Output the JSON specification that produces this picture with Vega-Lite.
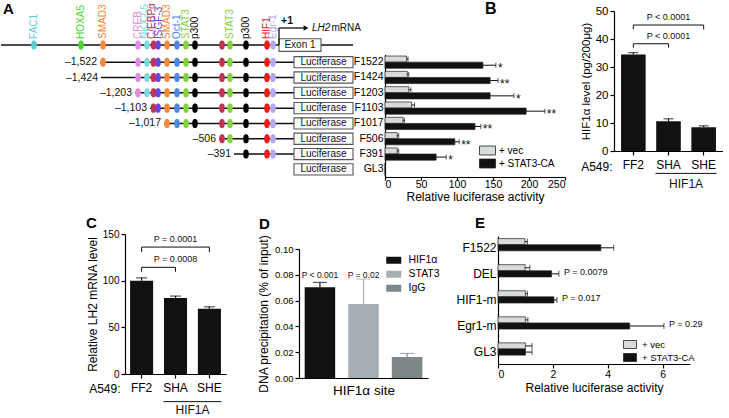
{
 "$schema": "https://vega.github.io/schema/vega-lite/v6.json",
 "background": "white",
 "padding": {"left": 0, "top": 0, "right": 0, "bottom": 0},
 "config": {
  "font": "Liberation Sans",
  "view": {"stroke": null},
  "axis": {"domainColor": "#000", "tickColor": "#000", "labelColor": "#000", "titleColor": "#000", "grid": false, "titleFontWeight": "normal", "domainWidth": 1.2, "tickWidth": 1.2, "labelOverlap": false},
  "title": {"fontSize": 15, "fontWeight": "bold", "anchor": "start", "frame": "group", "color": "#000"},
  "legend": {"labelColor": "#000"}
 },
 "spacing": 6,
 "resolve": {"scale": {"color": "independent", "x": "independent", "y": "independent"}, "legend": {"color": "independent"}},
 "vconcat": [
  {
   "hconcat": [
    {
     "width": 384, "height": 166,
     "title": {"text": "A", "dx": 2, "offset": -13.5},
     "layer": [
      {"data": {"values": [
        {"lane": -0.12, "x1": 0, "x2": 352, "lab": ""},
        {"lane": 1, "x1": 99, "x2": 293, "lab": "–1,522"},
        {"lane": 2, "x1": 100, "x2": 293, "lab": "–1,424"},
        {"lane": 3, "x1": 134, "x2": 293, "lab": "–1,203"},
        {"lane": 4, "x1": 149, "x2": 293, "lab": "–1,103"},
        {"lane": 5, "x1": 163, "x2": 293, "lab": "–1,017"},
        {"lane": 6, "x1": 218, "x2": 293, "lab": "–506"},
        {"lane": 7, "x1": 233, "x2": 293, "lab": "–391"}]},
       "layer": [
        {"mark": {"type": "rule", "color": "#111", "strokeWidth": 1.5},
         "encoding": {
          "x": {"field": "x1", "type": "quantitative", "scale": {"domain": [0, 384], "nice": false, "zero": false}, "axis": null},
          "x2": {"field": "x2"},
          "y": {"field": "lane", "type": "quantitative", "scale": {"domain": [-2.344, 8.498], "reverse": true, "nice": false, "zero": false}, "axis": null}}},
        {"transform": [{"filter": "datum.lab != ''"}],
         "mark": {"type": "text", "align": "right", "baseline": "middle", "dx": -3, "fontSize": 10.5, "color": "#111"},
         "encoding": {
          "x": {"field": "x1", "type": "quantitative", "axis": null},
          "y": {"field": "lane", "type": "quantitative", "axis": null},
          "text": {"field": "lab"}}}
       ]},
      {"data": {"values": [{"lane": 1}, {"lane": 2}, {"lane": 3}, {"lane": 4}, {"lane": 5}, {"lane": 6}, {"lane": 7}, {"lane": 8}]},
       "layer": [
        {"mark": {"type": "point", "shape": "M-1,-0.19H1V0.19H-1Z", "size": 3481, "filled": true, "fill": "white", "stroke": "#555", "strokeWidth": 1.1, "opacity": 1},
         "encoding": {"x": {"datum": 322.5, "type": "quantitative", "axis": null}, "y": {"field": "lane", "type": "quantitative", "axis": null}}},
        {"mark": {"type": "text", "fontSize": 10, "baseline": "middle", "color": "#111"},
         "encoding": {"x": {"datum": 322.5, "type": "quantitative", "axis": null}, "y": {"field": "lane", "type": "quantitative", "axis": null}, "text": {"value": "Luciferase"}}}
       ]},
      {"data": {"values": [{"lane": -0.12, "t": "Exon 1"}]},
       "layer": [
        {"mark": {"type": "point", "shape": "M-1,-0.3H1V0.3H-1Z", "size": 1764, "filled": true, "fill": "white", "stroke": "#555", "strokeWidth": 1.1, "opacity": 1},
         "encoding": {"x": {"datum": 299, "type": "quantitative", "axis": null}, "y": {"field": "lane", "type": "quantitative", "axis": null}}},
        {"mark": {"type": "text", "fontSize": 10, "baseline": "middle", "color": "#111"},
         "encoding": {"x": {"datum": 299, "type": "quantitative", "axis": null}, "y": {"field": "lane", "type": "quantitative", "axis": null}, "text": {"field": "t"}}}
       ]},
      {"data": {"values": [
        {"lane": -0.12, "p": 33, "f": "FAC1"}, {"lane": -0.12, "p": 80, "f": "HOXA5"}, {"lane": -0.12, "p": 102, "f": "SMAD3"},
        {"lane": -0.12, "p": 137, "f": "CREB"}, {"lane": -0.12, "p": 146, "f": "NKX2-5"}, {"lane": -0.12, "p": 152.5, "f": "C/EBPα"},
        {"lane": -0.12, "p": 157, "f": "ISGF-3"}, {"lane": -0.12, "p": 166, "f": "SMAD3"}, {"lane": -0.12, "p": 176, "f": "Oct-1"},
        {"lane": -0.12, "p": 185, "f": "STAT3"}, {"lane": -0.12, "p": 194, "f": "p300"}, {"lane": -0.12, "p": 221, "f": "C/EBPα"},
        {"lane": -0.12, "p": 229, "f": "STAT3"}, {"lane": -0.12, "p": 245, "f": "p300"}, {"lane": -0.12, "p": 266, "f": "HIF1"},
        {"lane": -0.12, "p": 272, "f": "Egr-1"},
        {"lane": 1, "p": 102, "f": "SMAD3"},
        {"lane": 1, "p": 137, "f": "CREB"}, {"lane": 1, "p": 146, "f": "NKX2-5"}, {"lane": 1, "p": 152.5, "f": "C/EBPα"},
        {"lane": 1, "p": 157, "f": "ISGF-3"}, {"lane": 1, "p": 166, "f": "SMAD3"}, {"lane": 1, "p": 176, "f": "Oct-1"},
        {"lane": 1, "p": 185, "f": "STAT3"}, {"lane": 1, "p": 194, "f": "p300"}, {"lane": 1, "p": 221, "f": "C/EBPα"},
        {"lane": 1, "p": 229, "f": "STAT3"}, {"lane": 1, "p": 245, "f": "p300"}, {"lane": 1, "p": 266, "f": "HIF1"},
        {"lane": 1, "p": 272, "f": "Egr-1"},
        {"lane": 2, "p": 137, "f": "CREB"}, {"lane": 2, "p": 146, "f": "NKX2-5"}, {"lane": 2, "p": 152.5, "f": "C/EBPα"},
        {"lane": 2, "p": 157, "f": "ISGF-3"}, {"lane": 2, "p": 166, "f": "SMAD3"}, {"lane": 2, "p": 176, "f": "Oct-1"},
        {"lane": 2, "p": 185, "f": "STAT3"}, {"lane": 2, "p": 194, "f": "p300"}, {"lane": 2, "p": 221, "f": "C/EBPα"},
        {"lane": 2, "p": 229, "f": "STAT3"}, {"lane": 2, "p": 245, "f": "p300"}, {"lane": 2, "p": 266, "f": "HIF1"},
        {"lane": 2, "p": 272, "f": "Egr-1"},
        {"lane": 3, "p": 137, "f": "CREB"}, {"lane": 3, "p": 146, "f": "NKX2-5"}, {"lane": 3, "p": 152.5, "f": "C/EBPα"},
        {"lane": 3, "p": 157, "f": "ISGF-3"}, {"lane": 3, "p": 166, "f": "SMAD3"}, {"lane": 3, "p": 176, "f": "Oct-1"},
        {"lane": 3, "p": 185, "f": "STAT3"}, {"lane": 3, "p": 194, "f": "p300"}, {"lane": 3, "p": 221, "f": "C/EBPα"},
        {"lane": 3, "p": 229, "f": "STAT3"}, {"lane": 3, "p": 245, "f": "p300"}, {"lane": 3, "p": 266, "f": "HIF1"},
        {"lane": 3, "p": 272, "f": "Egr-1"},
        {"lane": 4, "p": 152.5, "f": "C/EBPα"},
        {"lane": 4, "p": 157, "f": "ISGF-3"}, {"lane": 4, "p": 166, "f": "SMAD3"}, {"lane": 4, "p": 176, "f": "Oct-1"},
        {"lane": 4, "p": 185, "f": "STAT3"}, {"lane": 4, "p": 194, "f": "p300"}, {"lane": 4, "p": 221, "f": "C/EBPα"},
        {"lane": 4, "p": 229, "f": "STAT3"}, {"lane": 4, "p": 245, "f": "p300"}, {"lane": 4, "p": 266, "f": "HIF1"},
        {"lane": 4, "p": 272, "f": "Egr-1"},
        {"lane": 5, "p": 166, "f": "SMAD3"}, {"lane": 5, "p": 176, "f": "Oct-1"},
        {"lane": 5, "p": 185, "f": "STAT3"}, {"lane": 5, "p": 194, "f": "p300"}, {"lane": 5, "p": 221, "f": "C/EBPα"},
        {"lane": 5, "p": 229, "f": "STAT3"}, {"lane": 5, "p": 245, "f": "p300"}, {"lane": 5, "p": 266, "f": "HIF1"},
        {"lane": 5, "p": 272, "f": "Egr-1"},
        {"lane": 6, "p": 221, "f": "C/EBPα"},
        {"lane": 6, "p": 229, "f": "STAT3"}, {"lane": 6, "p": 245, "f": "p300"}, {"lane": 6, "p": 266, "f": "HIF1"},
        {"lane": 6, "p": 272, "f": "Egr-1"},
        {"lane": 7, "p": 245, "f": "p300"}, {"lane": 7, "p": 266, "f": "HIF1"},
        {"lane": 7, "p": 272, "f": "Egr-1"}]},
       "mark": {"type": "point", "shape": "M0,-1.65C0.85,-1.65,1,-0.85,1,0C1,0.85,0.85,1.65,0,1.65C-0.85,1.65,-1,0.85,-1,0C-1,-0.85,-0.85,-1.65,0,-1.65Z", "size": 30, "filled": true, "opacity": 1},
       "encoding": {
        "x": {"field": "p", "type": "quantitative", "axis": null},
        "y": {"field": "lane", "type": "quantitative", "axis": null},
        "color": {"field": "f", "type": "nominal", "legend": null,
         "scale": {"domain": ["FAC1", "HOXA5", "SMAD3", "CREB", "NKX2-5", "C/EBPα", "ISGF-3", "Oct-1", "STAT3", "p300", "HIF1", "Egr-1"],
                   "range": ["#5dcfd0", "#4cd633", "#f5883a", "#df8de6", "#7fd8dc", "#c23350", "#6b45d8", "#4c88e6", "#84d23c", "#000000", "#ee1b1b", "#b4a8f0"]}}}},
      {"data": {"values": [
        {"t": "FAC1", "f": "FAC1", "x": 33}, {"t": "HOXA5", "f": "HOXA5", "x": 80}, {"t": "SMAD3", "f": "SMAD3", "x": 102},
        {"t": "CREB", "f": "CREB", "x": 136.5}, {"t": "NKX2-5", "f": "NKX2-5", "x": 144}, {"t": "C/EBPα", "f": "C/EBPα", "x": 151},
        {"t": "ISGF-3", "f": "ISGF-3", "x": 158}, {"t": "SMAD3", "f": "SMAD3", "x": 166}, {"t": "Oct-1", "f": "Oct-1", "x": 175.5},
        {"t": "STAT3", "f": "STAT3", "x": 184.5}, {"t": "p300", "f": "p300", "x": 194}, {"t": "STAT3", "f": "STAT3", "x": 229},
        {"t": "p300", "f": "p300", "x": 244.5}, {"t": "HIF1", "f": "HIF1", "x": 265.5}, {"t": "Egr-1", "f": "Egr-1", "x": 272}]},
       "mark": {"type": "text", "angle": 270, "align": "left", "baseline": "middle", "fontSize": 10},
       "encoding": {
        "x": {"field": "x", "type": "quantitative", "axis": null},
        "y": {"datum": -0.52, "type": "quantitative", "axis": null},
        "text": {"field": "t"},
        "color": {"field": "f", "type": "nominal", "legend": null}}},
      {"data": {"values": [{"x1": 278, "x2": 278, "y1": -0.12, "y2": -1.234}, {"x1": 278, "x2": 304, "y1": -1.234, "y2": -1.234}]},
       "mark": {"type": "rule", "color": "#111", "strokeWidth": 1.3},
       "encoding": {"x": {"field": "x1", "type": "quantitative", "axis": null}, "x2": {"field": "x2"}, "y": {"field": "y1", "type": "quantitative", "axis": null}, "y2": {"field": "y2"}}},
      {"data": {"values": [{"x": 305, "y": -1.234}]},
       "mark": {"type": "point", "shape": "triangle-right", "size": 30, "filled": true, "color": "#111", "opacity": 1},
       "encoding": {"x": {"field": "x", "type": "quantitative", "axis": null}, "y": {"field": "y", "type": "quantitative", "axis": null}}},
      {"data": {"values": [{"x": 280, "y": -1.69, "t": "+1"}]},
       "mark": {"type": "text", "align": "left", "baseline": "middle", "fontSize": 10.5, "fontWeight": "bold", "color": "#111"},
       "encoding": {"x": {"field": "x", "type": "quantitative", "axis": null}, "y": {"field": "y", "type": "quantitative", "axis": null}, "text": {"field": "t"}}},
      {"data": {"values": [{"x": 311, "y": -1.234, "t": "LH2"}]},
       "mark": {"type": "text", "align": "left", "baseline": "middle", "fontSize": 10, "fontStyle": "italic", "color": "#111"},
       "encoding": {"x": {"field": "x", "type": "quantitative", "axis": null}, "y": {"field": "y", "type": "quantitative", "axis": null}, "text": {"field": "t"}}},
      {"data": {"values": [{"x": 330.5, "y": -1.234, "t": "mRNA"}]},
       "mark": {"type": "text", "align": "left", "baseline": "middle", "fontSize": 10, "color": "#111"},
       "encoding": {"x": {"field": "x", "type": "quantitative", "axis": null}, "y": {"field": "y", "type": "quantitative", "axis": null}, "text": {"field": "t"}}}
     ]
    },
    {
     "width": 229, "height": 166,
     "data": {"values": [
      {"c": "F1522", "g": "+ vec", "v": 30, "e": 32},
      {"c": "F1522", "g": "+ STAT3-CA", "v": 136, "e": 154, "s": "*"},
      {"c": "F1424", "g": "+ vec", "v": 31, "e": 33},
      {"c": "F1424", "g": "+ STAT3-CA", "v": 146, "e": 157, "s": "**"},
      {"c": "F1203", "g": "+ vec", "v": 33, "e": 36},
      {"c": "F1203", "g": "+ STAT3-CA", "v": 146, "e": 179, "s": "*"},
      {"c": "F1103", "g": "+ vec", "v": 37, "e": 41},
      {"c": "F1103", "g": "+ STAT3-CA", "v": 196, "e": 222, "s": "**"},
      {"c": "F1017", "g": "+ vec", "v": 25, "e": 27},
      {"c": "F1017", "g": "+ STAT3-CA", "v": 125, "e": 133, "s": "**"},
      {"c": "F506", "g": "+ vec", "v": 17, "e": 19},
      {"c": "F506", "g": "+ STAT3-CA", "v": 97, "e": 103, "s": "**"},
      {"c": "F391", "g": "+ vec", "v": 17, "e": 19},
      {"c": "F391", "g": "+ STAT3-CA", "v": 71, "e": 85, "s": "*"},
      {"c": "GL3", "g": "+ vec", "v": 0, "e": 0},
      {"c": "GL3", "g": "+ STAT3-CA", "v": 0, "e": 0}]},
     "encoding": {
      "y": {"field": "c", "type": "nominal", "scale": {"domain": ["F1522", "F1424", "F1203", "F1103", "F1017", "F506", "F391", "GL3"], "range": [43.5, 166], "paddingInner": 0.2, "paddingOuter": 0.1},
            "axis": {"title": null, "ticks": false, "labelPadding": 2, "labelFontSize": 10.5}},
      "yOffset": {"field": "g", "type": "nominal", "scale": {"domain": ["+ vec", "+ STAT3-CA"], "paddingInner": 0, "paddingOuter": 0}}
     },
     "layer": [
      {"mark": {"type": "bar", "stroke": "#222", "strokeWidth": 0.7},
       "encoding": {
        "x": {"field": "v", "type": "quantitative", "scale": {"domain": [0, 250], "range": [0, 180], "nice": false},
              "axis": {"values": [0, 50, 100, 150, 200, 250], "tickCount": 20, "format": "d", "title": "Relative luciferase activity", "tickSize": 3, "labelPadding": -1, "labelFontSize": 10.5, "titleFontSize": 12, "titlePadding": 2}},
        "color": {"field": "g", "type": "nominal", "scale": {"domain": ["+ vec", "+ STAT3-CA"], "range": ["#d8dbdb", "#111111"]},
                  "legend": {"orient": "none", "legendX": 97, "legendY": 134, "title": null, "symbolType": "M-1.6,-0.9H1.6V0.9H-1.6Z", "symbolSize": 100, "symbolStrokeColor": "#222", "symbolStrokeWidth": 0.8, "labelFontSize": 10, "labelOffset": 6, "rowPadding": 0, "padding": 0}}}},
      {"transform": [{"filter": "datum.e > datum.v"}],
       "mark": {"type": "rule", "color": "#111", "strokeWidth": 1},
       "encoding": {"x": {"field": "v", "type": "quantitative", "scale": {"domain": [0, 250], "range": [0, 180], "nice": false}}, "x2": {"field": "e"}}},
      {"transform": [{"filter": "datum.e > datum.v"}],
       "mark": {"type": "tick", "color": "#111", "thickness": 1, "size": 5},
       "encoding": {"x": {"field": "e", "type": "quantitative", "scale": {"domain": [0, 250], "range": [0, 180], "nice": false}}}},
      {"transform": [{"filter": "datum.s"}],
       "mark": {"type": "text", "align": "left", "baseline": "middle", "dx": 2, "dy": 3, "fontSize": 12, "color": "#111"},
       "encoding": {"x": {"field": "e", "type": "quantitative", "scale": {"domain": [0, 250], "range": [0, 180], "nice": false}}, "text": {"field": "s"}}}
     ]
    },
    {
     "width": 109, "height": 140,
     "title": {"text": "B", "dx": -129, "offset": -11.5, "fontSize": 16},
     "layer": [
      {"data": {"values": [{"k": "FF2", "v": 34.5, "e": 35.1}, {"k": "SHA", "v": 10.6, "e": 11.5}, {"k": "SHE", "v": 8.5, "e": 9.0}]},
       "layer": [
        {"mark": {"type": "bar", "color": "#111"},
         "encoding": {
          "x": {"field": "k", "type": "nominal", "scale": {"domain": ["FF2", "SHA", "SHE"], "paddingInner": 0.3, "paddingOuter": 0.2},
                "axis": {"labelAngle": 0, "title": "A549:", "titleX": -2, "titleY": 15.5, "titleAlign": "right", "titleBaseline": "middle", "titleFontSize": 12, "labelFontSize": 12, "tickSize": 4, "labelPadding": 4}},
          "y": {"field": "v", "type": "quantitative", "scale": {"domain": [0, 50], "nice": false},
                "axis": {"values": [0, 10, 20, 30, 40, 50], "tickCount": 20, "format": "d", "title": "HIF1α level (pg/200μg)", "labelFontSize": 11.5, "titleFontSize": 11.5, "tickSize": 4, "labelPadding": 2, "titlePadding": 4}}}},
        {"mark": {"type": "rule", "color": "#111", "strokeWidth": 1.2},
         "encoding": {"x": {"field": "k", "type": "nominal"}, "y": {"field": "v", "type": "quantitative"}, "y2": {"field": "e"}}},
        {"mark": {"type": "tick", "color": "#111", "thickness": 1.2, "size": 10},
         "encoding": {"x": {"field": "k", "type": "nominal"}, "y": {"field": "e", "type": "quantitative"}}}
       ]},
      {"data": {"values": [
        {"from": "FF2", "to": "SHE", "mid": "SHA", "lvl": 45, "drop": 43.4, "ty": 48, "txt": "P < 0.0001"},
        {"from": "FF2", "to": "SHA", "mid": "SHA", "lvl": 38.3, "drop": 36.9, "ty": 41, "txt": "P < 0.0001"}]},
       "layer": [
        {"mark": {"type": "rule", "color": "#111", "strokeWidth": 1},
         "encoding": {"x": {"field": "from", "type": "nominal"}, "x2": {"field": "to"}, "y": {"field": "lvl", "type": "quantitative"}}},
        {"mark": {"type": "rule", "color": "#111", "strokeWidth": 1},
         "encoding": {"x": {"field": "from", "type": "nominal"}, "y": {"field": "lvl", "type": "quantitative"}, "y2": {"field": "drop"}}},
        {"mark": {"type": "rule", "color": "#111", "strokeWidth": 1},
         "encoding": {"x": {"field": "to", "type": "nominal"}, "y": {"field": "lvl", "type": "quantitative"}, "y2": {"field": "drop"}}},
        {"mark": {"type": "text", "fontSize": 9, "baseline": "middle", "color": "#111"},
         "encoding": {"x": {"field": "mid", "type": "nominal"}, "y": {"field": "ty", "type": "quantitative"}, "text": {"field": "txt"}}}
       ]},
      {"data": {"values": [{"a": "SHA", "b": "SHE", "ly": -8, "ty": -11.8, "t": "HIF1A"}]},
       "layer": [
        {"mark": {"type": "rule", "color": "#111", "strokeWidth": 1, "xOffset": -13, "x2Offset": 13},
         "encoding": {"x": {"field": "a", "type": "nominal"}, "x2": {"field": "b"}, "y": {"field": "ly", "type": "quantitative"}}},
        {"mark": {"type": "text", "fontSize": 12, "baseline": "middle", "xOffset": 17.6, "color": "#111"},
         "encoding": {"x": {"field": "a", "type": "nominal"}, "y": {"field": "ty", "type": "quantitative"}, "text": {"field": "t"}}}
       ]}
     ]
    }
   ],
   "spacing": 0,
   "bounds": "flush",
   "resolve": {"scale": {"color": "independent", "x": "independent", "y": "independent"}, "legend": {"color": "independent"}}
  },
  {
   "hconcat": [
    {"width": 124, "height": 10, "data": {"values": [{"t": "."}]}, "mark": {"type": "text", "opacity": 0, "fontSize": 60, "baseline": "middle"}, "encoding": {"text": {"field": "t"}}},
    {
     "width": 174, "height": 140,
     "title": {"text": "C", "dx": -39, "offset": -2},
     "layer": [
      {"data": {"values": [{"k": "FF2", "v": 100, "e": 103}, {"k": "SHA", "v": 81.5, "e": 83.5}, {"k": "SHE", "v": 70, "e": 72}]},
       "layer": [
        {"mark": {"type": "bar", "color": "#111"},
         "encoding": {
          "x": {"field": "k", "type": "nominal", "scale": {"domain": ["FF2", "SHA", "SHE"], "range": [0, 101], "paddingInner": 0.32, "paddingOuter": 0.15},
                "axis": {"labelAngle": 0, "title": "A549:", "titleX": -5, "titleY": 14, "titleAlign": "right", "titleBaseline": "middle", "titleFontSize": 12, "labelFontSize": 12, "tickSize": 4, "labelPadding": 4}},
          "y": {"field": "v", "type": "quantitative", "scale": {"domain": [0, 150], "nice": false},
                "axis": {"values": [0, 50, 100, 150], "tickCount": 20, "format": "d", "title": "Relative LH2 mRNA level", "labelFontSize": 10, "titleFontSize": 12, "tickSize": 4, "labelPadding": 2, "titlePadding": 3}}}},
        {"mark": {"type": "rule", "color": "#111", "strokeWidth": 1.2},
         "encoding": {"x": {"field": "k", "type": "nominal"}, "y": {"field": "v", "type": "quantitative"}, "y2": {"field": "e"}}},
        {"mark": {"type": "tick", "color": "#111", "thickness": 1.2, "size": 11},
         "encoding": {"x": {"field": "k", "type": "nominal"}, "y": {"field": "e", "type": "quantitative"}}}
       ]},
      {"data": {"values": [
        {"from": "FF2", "to": "SHE", "mid": "SHA", "lvl": 136, "drop": 130.5, "ty": 144.6, "txt": "P = 0.0001"},
        {"from": "FF2", "to": "SHA", "mid": "SHA", "lvl": 114.3, "drop": 109.5, "ty": 123.2, "txt": "P = 0.0008"}]},
       "layer": [
        {"mark": {"type": "rule", "color": "#111", "strokeWidth": 1},
         "encoding": {"x": {"field": "from", "type": "nominal"}, "x2": {"field": "to"}, "y": {"field": "lvl", "type": "quantitative"}}},
        {"mark": {"type": "rule", "color": "#111", "strokeWidth": 1},
         "encoding": {"x": {"field": "from", "type": "nominal"}, "y": {"field": "lvl", "type": "quantitative"}, "y2": {"field": "drop"}}},
        {"mark": {"type": "rule", "color": "#111", "strokeWidth": 1},
         "encoding": {"x": {"field": "to", "type": "nominal"}, "y": {"field": "lvl", "type": "quantitative"}, "y2": {"field": "drop"}}},
        {"mark": {"type": "text", "fontSize": 9, "baseline": "middle", "color": "#111"},
         "encoding": {"x": {"field": "mid", "type": "nominal"}, "y": {"field": "ty", "type": "quantitative"}, "text": {"field": "txt"}}}
       ]},
      {"data": {"values": [{"a": "SHA", "b": "SHE", "ly": -29.6, "ty": -39, "t": "HIF1A"}]},
       "layer": [
        {"mark": {"type": "rule", "color": "#111", "strokeWidth": 1, "xOffset": -12, "x2Offset": 12},
         "encoding": {"x": {"field": "a", "type": "nominal"}, "x2": {"field": "b"}, "y": {"field": "ly", "type": "quantitative"}}},
        {"mark": {"type": "text", "fontSize": 12, "baseline": "middle", "xOffset": 17, "color": "#111"},
         "encoding": {"x": {"field": "a", "type": "nominal"}, "y": {"field": "ty", "type": "quantitative"}, "text": {"field": "t"}}}
       ]}
     ]
    },
    {
     "width": 199, "height": 144,
     "title": {"text": "D", "dx": -40, "offset": 2},
     "data": {"values": [
      {"k": "HIF1α", "v": 0.0703, "e": 0.0741, "p": "P < 0.001", "ty": 0.0795},
      {"k": "STAT3", "v": 0.0574, "e": 0.0767, "p": "P = 0.02", "ty": 0.0795},
      {"k": "IgG", "v": 0.0163, "e": 0.019, "p": "", "ty": 0.0795}]},
     "layer": [
      {"mark": {"type": "bar"},
       "encoding": {
        "x": {"field": "k", "type": "nominal", "scale": {"domain": ["HIF1α", "STAT3", "IgG"], "range": [0, 129], "paddingInner": 0.3, "paddingOuter": 0.13},
              "axis": {"labels": false, "ticks": false, "title": "HIF1α site", "titleFontSize": 13.5, "titlePadding": 5}},
        "y": {"field": "v", "type": "quantitative", "scale": {"domain": [0, 0.1], "range": [144, 15], "nice": false},
              "axis": {"values": [0, 0.02, 0.04, 0.06, 0.08, 0.1], "tickCount": 20, "format": ".2f", "title": "DNA precipitation (% of input)", "labelFontSize": 9.5, "titleFontSize": 12, "tickSize": 4, "labelPadding": 2, "titlePadding": 4}},
        "color": {"field": "k", "type": "nominal", "scale": {"domain": ["HIF1α", "STAT3", "IgG"], "range": ["#111111", "#a6afb3", "#7e8789"]},
                  "legend": {"orient": "none", "legendX": 89.5, "legendY": 21, "title": null, "symbolType": "M-1.5,-0.7H1.5V0.7H-1.5Z", "symbolSize": 100, "symbolStrokeWidth": 0, "labelFontSize": 10.5, "labelOffset": 9.5, "rowPadding": 3, "padding": 0}}}},
      {"mark": {"type": "rule", "strokeWidth": 1.2},
       "encoding": {"x": {"field": "k", "type": "nominal"}, "y": {"field": "v", "type": "quantitative"}, "y2": {"field": "e"},
                    "color": {"field": "k", "type": "nominal", "legend": null}}},
      {"mark": {"type": "tick", "thickness": 1.2, "size": 14},
       "encoding": {"x": {"field": "k", "type": "nominal"}, "y": {"field": "e", "type": "quantitative"},
                    "color": {"field": "k", "type": "nominal", "legend": null}}},
      {"transform": [{"filter": "datum.p != ''"}],
       "mark": {"type": "text", "fontSize": 8.5, "baseline": "middle", "color": "#111"},
       "encoding": {"x": {"field": "k", "type": "nominal"}, "y": {"field": "ty", "type": "quantitative"}, "text": {"field": "p"}}}
     ]
    },
    {
     "width": 192, "height": 130,
     "title": {"text": "E", "dx": -23, "offset": 3},
     "data": {"values": [
      {"c": "F1522", "g": "+ vec", "v": 0.98, "e": 1.07},
      {"c": "F1522", "g": "+ STAT3-CA", "v": 3.75, "e": 4.22},
      {"c": "DEL", "g": "+ vec", "v": 0.99, "e": 1.16},
      {"c": "DEL", "g": "+ STAT3-CA", "v": 1.95, "e": 2.22, "p": "P = 0.0079"},
      {"c": "HIF1-m", "g": "+ vec", "v": 1.0, "e": 1.07},
      {"c": "HIF1-m", "g": "+ STAT3-CA", "v": 2.04, "e": 2.15, "p": "P = 0.017"},
      {"c": "Egr1-m", "g": "+ vec", "v": 1.0, "e": 1.09},
      {"c": "Egr1-m", "g": "+ STAT3-CA", "v": 4.8, "e": 6.05, "p": "P = 0.29"},
      {"c": "GL3", "g": "+ vec", "v": 1.0, "e": 1.24},
      {"c": "GL3", "g": "+ STAT3-CA", "v": 1.0, "e": 1.24}]},
     "encoding": {
      "y": {"field": "c", "type": "nominal", "scale": {"domain": ["F1522", "DEL", "HIF1-m", "Egr1-m", "GL3"], "range": [2, 130], "paddingInner": 0.29, "paddingOuter": 0.1},
            "axis": {"title": null, "ticks": false, "labelPadding": 2, "labelFontSize": 12}},
      "yOffset": {"field": "g", "type": "nominal", "scale": {"domain": ["+ vec", "+ STAT3-CA"], "paddingInner": 0, "paddingOuter": 0}}
     },
     "layer": [
      {"mark": {"type": "bar", "stroke": "#222", "strokeWidth": 0.7},
       "encoding": {
        "x": {"field": "v", "type": "quantitative", "scale": {"domain": [0, 7], "nice": false},
              "axis": {"values": [0, 2, 4, 6], "tickCount": 20, "format": "d", "title": "Relative luciferase activity", "tickSize": 4, "labelPadding": 1, "labelFontSize": 10.5, "titleFontSize": 12, "titlePadding": 3}},
        "color": {"field": "g", "type": "nominal", "scale": {"domain": ["+ vec", "+ STAT3-CA"], "range": ["#d8dbdb", "#111111"]},
                  "legend": {"orient": "none", "legendX": 126.5, "legendY": 105, "title": null, "symbolType": "M-1.3,-0.8H1.3V0.8H-1.3Z", "symbolSize": 100, "symbolStrokeColor": "#222", "symbolStrokeWidth": 0.8, "labelFontSize": 9.5, "labelOffset": 6.5, "rowPadding": 0, "padding": 0}}}},
      {"mark": {"type": "rule", "color": "#111", "strokeWidth": 1},
       "encoding": {"x": {"field": "v", "type": "quantitative", "scale": {"domain": [0, 7], "nice": false}}, "x2": {"field": "e"}}},
      {"mark": {"type": "tick", "color": "#111", "thickness": 1, "size": 6},
       "encoding": {"x": {"field": "e", "type": "quantitative", "scale": {"domain": [0, 7], "nice": false}}}},
      {"transform": [{"filter": "datum.p"}],
       "mark": {"type": "text", "align": "left", "baseline": "middle", "dx": 5, "dy": -2, "fontSize": 9, "color": "#111"},
       "encoding": {"x": {"field": "e", "type": "quantitative", "scale": {"domain": [0, 7], "nice": false}}, "text": {"field": "p"}}}
     ]
    }
   ],
   "spacing": 0,
   "bounds": "flush",
   "resolve": {"scale": {"color": "independent", "x": "independent", "y": "independent"}, "legend": {"color": "independent"}}
  }
 ]
}
